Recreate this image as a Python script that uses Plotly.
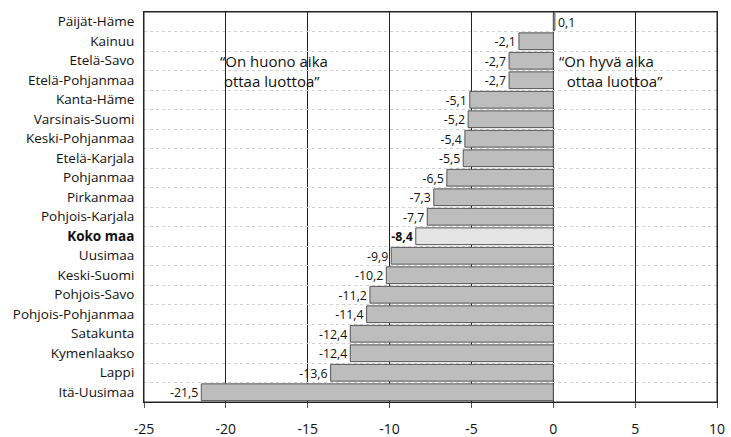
import plotly.graph_objects as go

regions = [
    "Päijät-Häme", "Kainuu", "Etelä-Savo", "Etelä-Pohjanmaa", "Kanta-Häme",
    "Varsinais-Suomi", "Keski-Pohjanmaa", "Etelä-Karjala", "Pohjanmaa", "Pirkanmaa",
    "Pohjois-Karjala", "Koko maa", "Uusimaa", "Keski-Suomi", "Pohjois-Savo",
    "Pohjois-Pohjanmaa", "Satakunta", "Kymenlaakso", "Lappi", "Itä-Uusimaa",
]
values = [
    0.1, -2.1, -2.7, -2.7, -5.1,
    -5.2, -5.4, -5.5, -6.5, -7.3,
    -7.7, -8.4, -9.9, -10.2, -11.2,
    -11.4, -12.4, -12.4, -13.6, -21.5,
]
x_ticks = [-25, -20, -15, -10, -5, 0, 5, 10]

FONT = "Open Sans, Noto Sans, sans-serif"
TOTAL = "Koko maa"

bar_colors = ["#e4e4e4" if r == TOTAL else "#bdbdbd" for r in regions]
labels = [f"<b>{v:.1f}</b>".replace(".", ",") if r == TOTAL else f"{v:.1f}".replace(".", ",")
          for r, v in zip(regions, values)]
tick_text = [f"<b>{r}</b>" if r == TOTAL else r for r in regions]

fig = go.Figure(
    go.Bar(
        x=values,
        y=regions,
        orientation="h",
        marker=dict(color=bar_colors, line=dict(color="#555", width=1)),
        text=labels,
        textposition="outside",
        cliponaxis=False,
        textfont=dict(size=14, color="#111", family=FONT),
        width=0.86,
    )
)

fig.update_layout(
    width=731,
    height=437,
    margin=dict(l=144, r=14, t=12, b=35),
    paper_bgcolor="white",
    plot_bgcolor="white",
    font=dict(family=FONT, size=13.5, color="#111"),
    showlegend=False,
    bargap=0.14,
)

fig.update_xaxes(
    range=[-25, 10],
    tickvals=x_ticks,
    ticktext=[str(t) for t in x_ticks],
    automargin=False,
    showgrid=True,
    gridcolor="#222",
    gridwidth=1,
    zeroline=False,
    showline=True,
    linecolor="#222",
    linewidth=1,
    mirror=True,
    ticks="outside",
    ticklen=5,
    tickcolor="#555",
    tickfont=dict(size=14),
    ticklabelstandoff=9,
    layer="below traces",
)

fig.update_yaxes(
    type="category",
    autorange="reversed",
    tickvals=regions,
    ticktext=tick_text,
    automargin=False,
    tickson="boundaries",
    showgrid=True,
    gridcolor="#d2d2d2",
    griddash="dot",
    gridwidth=1,
    showline=True,
    linecolor="#222",
    linewidth=1,
    mirror=True,
    ticks="",
    ticklabelstandoff=6,
    tickfont=dict(size=13.5),
)

# frame round the plot area
fig.add_shape(
    type="rect", xref="paper", yref="paper", x0=0, x1=1, y0=0, y1=1,
    line=dict(color="#222", width=1), fillcolor="rgba(0,0,0,0)", layer="above",
)

fig.add_annotation(
    x=-20.45, y=2.5, xref="x", yref="y",
    text="“On huono aika<br>&nbsp;ottaa luottoa”",
    showarrow=False, xanchor="left", yanchor="middle", align="left",
    font=dict(size=15, family=FONT, color="#111"),
)
fig.add_annotation(
    x=0.25, y=2.5, xref="x", yref="y",
    text="“On hyvä aika<br>&nbsp;&nbsp;ottaa luottoa”",
    showarrow=False, xanchor="left", yanchor="middle", align="left",
    font=dict(size=15, family=FONT, color="#111"),
)

# drop the default page margin and scrollbars so the 731x437 figure fills the window exactly
page_fix = (
    "document.body.style.margin='0';"
    "document.body.style.overflow='hidden';"
    "document.documentElement.style.overflow='hidden';"
)
fig.write_html(
    "out.html",
    config=dict(displayModeBar=False, responsive=False),
    post_script=page_fix,
)
